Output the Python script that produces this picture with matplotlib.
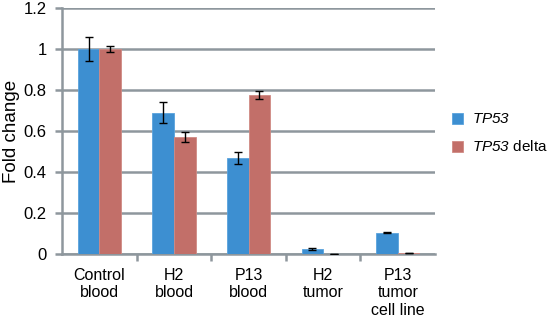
"""Fold change of TP53 and TP53 delta across samples."""
import matplotlib
matplotlib.use("Agg")
import matplotlib.pyplot as plt
import numpy as np

plt.rcParams["font.family"] = ["Liberation Sans", "DejaVu Sans"]
# italic gene names: route \mathrm to the italic face so digits are slanted too
plt.rcParams["mathtext.fontset"] = "custom"
plt.rcParams["mathtext.rm"] = "Liberation Sans:italic"
plt.rcParams["mathtext.it"] = "Liberation Sans:italic"

CATEGORIES = ["Control\nblood", "H2\nblood", "P13\nblood", "H2\ntumor", "P13\ntumor\ncell line"]
TP53 = [1.0, 0.69, 0.47, 0.025, 0.105]
TP53_ERR = [0.06, 0.05, 0.03, 0.003, 0.002]
DELTA = [1.0, 0.57, 0.775, 0.0, 0.004]
DELTA_ERR = [0.015, 0.025, 0.02, 0.0, 0.0]

BLUE = "#3d8fd1"
RED = "#c26f69"
GRID = "#8e979d"


def main():
    fig = plt.figure(figsize=(5.5, 3.18), dpi=100)
    ax = fig.add_axes([0.113, 0.201, 0.678, 0.774])
    x = np.arange(len(CATEGORIES))
    w = 0.29
    ekw = dict(ecolor="black", elinewidth=1.0, capsize=3, capthick=1.0)
    ax.bar(x - w / 2, TP53, w, color=BLUE, edgecolor="#5aa3dd", lw=0.6,
           yerr=TP53_ERR, error_kw=ekw, label=r"$\mathrm{TP53}$", zorder=3)
    ax.bar(x + w / 2, DELTA, w, color=RED, edgecolor="#d08a84", lw=0.6,
           yerr=DELTA_ERR, error_kw=ekw, label=r"$\mathrm{TP53}$ delta", zorder=3)

    ax.set_ylim(0, 1.2)
    ax.set_xlim(-0.5, len(CATEGORIES) - 0.5)
    ax.set_yticks(np.arange(0, 1.21, 0.2))
    ax.set_yticklabels(["0", "0.2", "0.4", "0.6", "0.8", "1", "1.2"], fontsize=12)
    ax.yaxis.grid(True, color=GRID, lw=1.8, zorder=0)
    ax.set_axisbelow(True)

    ax.set_xticks(x)
    ax.set_xticklabels(CATEGORIES, fontsize=11.5, linespacing=1.2)
    ax.tick_params(axis="x", length=0, pad=10)
    ax.set_xticks(np.arange(0.5, len(CATEGORIES) - 0.5), minor=True)
    ax.tick_params(axis="x", which="minor", length=5, width=1.8, color=GRID, direction="out")
    ax.tick_params(axis="y", length=5, width=1.8, color=GRID, pad=6)

    for s in ["top", "right"]:
        ax.spines[s].set_visible(False)
    for s in ["left", "bottom"]:
        ax.spines[s].set_color(GRID)
        ax.spines[s].set_linewidth(1.8)

    ax.set_ylabel("Fold change", fontsize=13.5)
    ax.yaxis.set_label_coords(-0.112, 0.5)
    ax.legend(loc="center left", bbox_to_anchor=(1.008, 0.49), frameon=False,
              fontsize=11, handlelength=0.75, handleheight=0.75, labelspacing=0.85,
              handletextpad=0.55)

    fig.savefig("out.png", dpi=100)


if __name__ == "__main__":
    main()
